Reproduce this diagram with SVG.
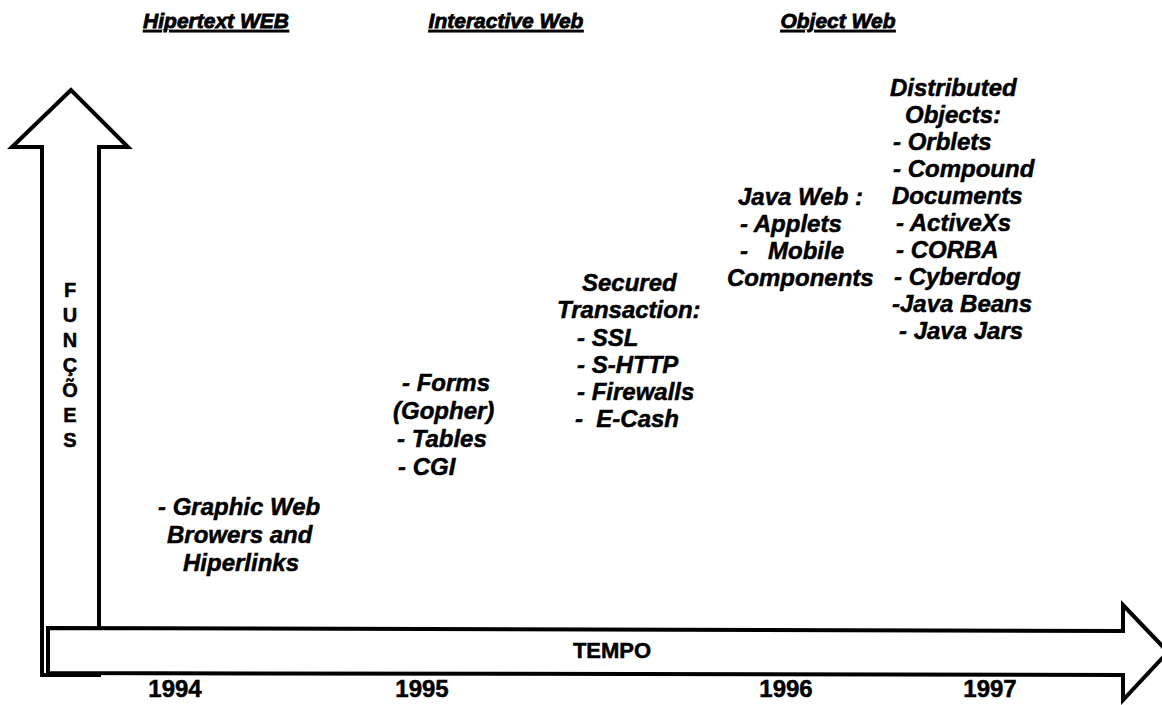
<svg xmlns="http://www.w3.org/2000/svg" width="1162" height="705" viewBox="0 0 1162 705">
  <style>
    .arrow { fill: #ffffff; stroke: #000000; stroke-width: 4; stroke-linejoin: miter; }
    .txt { font-family: "Liberation Sans", Arial, sans-serif; font-weight: bold; fill: #000; stroke: #000; stroke-width: 0.5; }
    .head { font-style: italic; font-size: 21px; text-decoration: underline; text-anchor: middle; stroke-width: 0.8; }
    .lbl { font-style: italic; font-size: 24px; white-space: pre; }
    .axis { font-size: 22px; text-anchor: middle; }
    .year { font-size: 24px; text-anchor: middle; }
    .vert { font-size: 20px; text-anchor: middle; }
  </style>
  <rect width="1162" height="705" fill="#ffffff"/>

  <!-- axes: vertical "funções" arrow and horizontal "tempo" arrow -->
  <g id="connectors">
    <polygon class="arrow" points="71,90 12,147 42,147 42,675 99,675 99,147 128,147"/>
    <polygon class="arrow" points="48,628 1123,631 1123,605 1168,652 1123,700 1123,675 48,673"/>
  </g>

  <g id="axis-y-label">
    <text class="txt vert" x="70" y="297">F</text>
    <text class="txt vert" x="70" y="322">U</text>
    <text class="txt vert" x="70" y="347">N</text>
    <text class="txt vert" x="70" y="372">Ç</text>
    <text class="txt vert" x="70" y="397">Õ</text>
    <text class="txt vert" x="70" y="422">E</text>
    <text class="txt vert" x="70" y="447">S</text>
  </g>

  <g id="axis-x-label">
    <text class="txt axis" x="612" y="658">TEMPO</text>
  </g>

  <g id="years">
    <text class="txt year" x="175" y="697">1994</text>
    <text class="txt year" x="422" y="697">1995</text>
    <text class="txt year" x="786" y="697">1996</text>
    <text class="txt year" x="990" y="697">1997</text>
  </g>

  <g id="headers">
    <text class="txt head" x="216" y="28">Hipertext WEB</text>
    <text class="txt head" x="506" y="28">Interactive Web</text>
    <text class="txt head" x="838" y="28">Object Web</text>
  </g>

  <g id="graphic-web">
    <text class="txt lbl" x="158" y="515">- Graphic Web</text>
    <text class="txt lbl" x="167" y="543">Browers and</text>
    <text class="txt lbl" x="183" y="571">Hiperlinks</text>
  </g>

  <g id="forms">
    <text class="txt lbl" x="402" y="391">- Forms</text>
    <text class="txt lbl" x="393" y="419">(Gopher)</text>
    <text class="txt lbl" x="397" y="447">- Tables</text>
    <text class="txt lbl" x="398" y="475">- CGI</text>
  </g>

  <g id="secured-transaction">
    <text class="txt lbl" x="582" y="291">Secured</text>
    <text class="txt lbl" x="557" y="318">Transaction:</text>
    <text class="txt lbl" x="577" y="346">- SSL</text>
    <text class="txt lbl" x="577" y="373">- S-HTTP</text>
    <text class="txt lbl" x="577" y="400">- Firewalls</text>
    <text class="txt lbl" x="575" y="427">-  E-Cash</text>
  </g>

  <g id="java-web">
    <text class="txt lbl" x="738" y="205">Java Web :</text>
    <text class="txt lbl" x="740" y="232">- Applets</text>
    <text class="txt lbl" x="740" y="259">-   Mobile</text>
    <text class="txt lbl" x="727" y="286">Components</text>
  </g>

  <g id="distributed-objects">
    <text class="txt lbl" x="890" y="96">Distributed</text>
    <text class="txt lbl" x="905" y="123">Objects:</text>
    <text class="txt lbl" x="893" y="150">- Orblets</text>
    <text class="txt lbl" x="893" y="177">- Compound</text>
    <text class="txt lbl" x="892" y="204">Documents</text>
    <text class="txt lbl" x="896" y="231">- ActiveXs</text>
    <text class="txt lbl" x="896" y="258">- CORBA</text>
    <text class="txt lbl" x="894" y="285">- Cyberdog</text>
    <text class="txt lbl" x="892" y="312">-Java Beans</text>
    <text class="txt lbl" x="899" y="339">- Java Jars</text>
  </g>
</svg>
